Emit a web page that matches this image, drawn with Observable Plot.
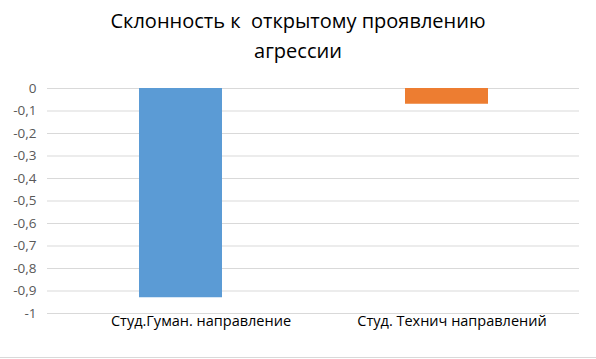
<!DOCTYPE html>
<html>
<head>
<meta charset="utf-8">
<script src="https://cdn.jsdelivr.net/npm/d3@7"></script>
<script src="https://cdn.jsdelivr.net/npm/@observablehq/plot@0.6"></script>
<style>
  html, body { margin: 0; padding: 0; background: #fff; }
  #wrap { position: relative; width: 596px; height: 359px; overflow: hidden; }
  #title { width: 596px; height: 75px; box-sizing: border-box; padding-top: 6px; text-align: center;
    font-family: "Open Sans", sans-serif; font-size: 20px; line-height: 30px; color: #000; }
  #title span { white-space: pre; }
  #edge { position: absolute; left: 0; top: 357px; width: 596px; height: 1px; background: #d9d9d9; }
</style>
</head>
<body>
<div id="wrap">
<div id="title"><span>Склонность к  открытому проявлению</span><br><span>агрессии</span></div>
<div id="chart"></div>
<div id="edge"></div>
</div>
<script>
const categories = ["Студ.Гуман. направление", "Студ. Технич направлений"];
const values = [-0.93, -0.07];
const colors = ["#5B9BD5", "#ED7D31"];
const yTicks = [0, -0.1, -0.2, -0.3, -0.4, -0.5, -0.6, -0.7, -0.8, -0.9, -1];

const data = categories.map((c, i) => ({category: c, value: values[i], color: colors[i]}));
const fmt = v => (v === 0 ? "0" : v === -1 ? "-1" : d3.format(".1f")(v).replace("−", "-").replace(".", ","));
const labelShift = [20, 5];

const chart = Plot.plot({
  width: 596,
  height: 284,
  marginTop: 13,
  marginBottom: 46,
  marginLeft: 47,
  marginRight: 17,
  style: {fontFamily: "Open Sans, sans-serif", background: "#fff"},
  x: {domain: categories, paddingInner: 0.688, paddingOuter: 0.344, label: null},
  y: {domain: [-1, 0], label: null},
  marks: [
    Plot.ruleY(yTicks, {stroke: "#d9d9d9", strokeWidth: 1}),
    Plot.barY(data, {x: "category", y: "value", fill: "color"}),
    Plot.axisY({ticks: yTicks, tickSize: 0, tickPadding: 11, tickFormat: fmt, fontSize: 13.5, fill: "#595959", label: null}),
    ...categories.map((c, i) => Plot.axisX({ticks: [c], dx: labelShift[i], tickSize: 0, tickPadding: 2, fontSize: 14.5, fill: "#000", label: null}))
  ]
});
document.getElementById("chart").appendChild(chart);
</script>
</body>
</html>
